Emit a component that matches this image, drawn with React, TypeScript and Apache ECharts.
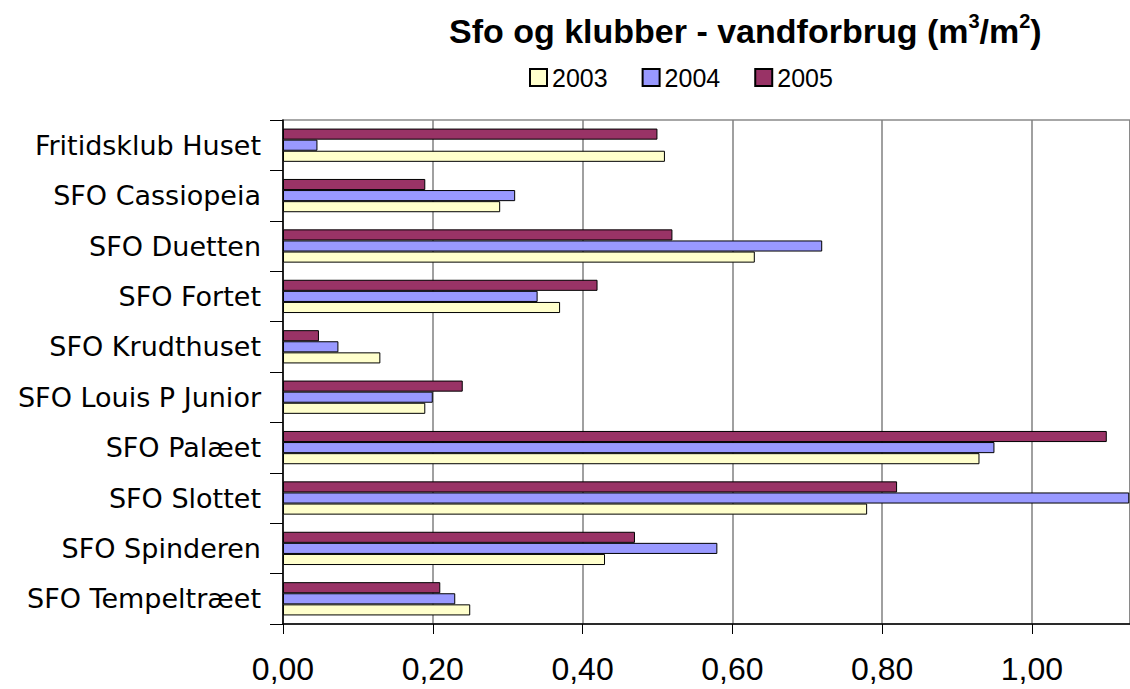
import React, { useEffect, useRef } from "react";
import * as echarts from "echarts";

const categories = [
  "Fritidsklub Huset",
  "SFO Cassiopeia",
  "SFO Duetten",
  "SFO Fortet",
  "SFO Krudthuset",
  "SFO Louis P Junior",
  "SFO Palæet",
  "SFO Slottet",
  "SFO Spinderen",
  "SFO Tempeltræet",
];
const values2003 = [0.51, 0.29, 0.63, 0.37, 0.13, 0.19, 0.93, 0.78, 0.43, 0.25];
const values2004 = [0.046, 0.31, 0.72, 0.34, 0.074, 0.2, 0.95, 1.13, 0.58, 0.23];
const values2005 = [0.5, 0.19, 0.52, 0.42, 0.048, 0.24, 1.1, 0.82, 0.47, 0.21];
const legendNames = ["2003", "2004", "2005"];
const axisMax = 1.131;

export default function App() {
  const ref = useRef<HTMLDivElement>(null);
  useEffect(() => {
    document.body.style.margin = "0";
    const chart = echarts.init(ref.current!, null, { renderer: "svg" });
    const border = { borderColor: "#000", borderWidth: 1 };
    chart.setOption({
      animation: false,
      backgroundColor: "#fff",
      title: {
        left: 444,
        top: 6,
        text: "{a|Sfo og klubber - vandforbrug (m}{s|3}{a|/m}{s|2}{a|)}",
        textStyle: {
          rich: {
            a: { fontFamily: "Liberation Sans", fontWeight: "bold", fontSize: 34, color: "#000", lineHeight: 40 },
            s: { fontFamily: "Liberation Sans", fontWeight: "bold", fontSize: 20, color: "#000", verticalAlign: "top", lineHeight: 40 },
          },
        },
      },
      legend: {
        data: legendNames,
        left: 524,
        top: 60,
        itemWidth: 17,
        itemHeight: 17,
        itemGap: 34,
        icon: "rect",
        textStyle: { fontFamily: "Liberation Sans", fontSize: 25, color: "#000" },
      },
      grid: {
        left: 283,
        top: 120,
        right: -3,
        bottom: 65,
        show: true,
        borderColor: "#8a8a8a",
        borderWidth: 1.5,
        containLabel: false,
      },
      xAxis: {
        type: "value",
        min: 0,
        max: axisMax,
        interval: 0.2,
        axisLine: { show: true, lineStyle: { color: "#000", width: 1.5 } },
        axisTick: { show: true, length: 10, lineStyle: { color: "#000", width: 1 } },
        splitLine: { show: true, lineStyle: { color: "#808080", width: 1.5 } },
        axisLabel: {
          showMaxLabel: false,
          margin: 29,
          fontFamily: "Liberation Sans",
          fontSize: 32,
          color: "#000",
          formatter: (v: number) => v.toFixed(2).replace(".", ","),
        },
      },
      yAxis: {
        type: "category",
        data: categories,
        inverse: true,
        axisLine: { show: true, lineStyle: { color: "#000", width: 1.5 } },
        axisTick: { show: true, length: 13, lineStyle: { color: "#000", width: 1 } },
        axisLabel: { margin: 22, fontFamily: "DejaVu Sans", fontSize: 27, color: "#000" },
      },
      series: [
        { name: "2005", type: "bar", data: values2005, barGap: "0%", barCategoryGap: "34%", itemStyle: { color: "#993366", ...border } },
        { name: "2004", type: "bar", data: values2004, barGap: "0%", barCategoryGap: "34%", itemStyle: { color: "#9999FF", ...border } },
        { name: "2003", type: "bar", data: values2003, barGap: "0%", barCategoryGap: "34%", itemStyle: { color: "#FFFFCC", ...border } },
      ],
    });
    return () => chart.dispose();
  }, []);
  return <div ref={ref} style={{ width: 1130, height: 689 }} />;
}
